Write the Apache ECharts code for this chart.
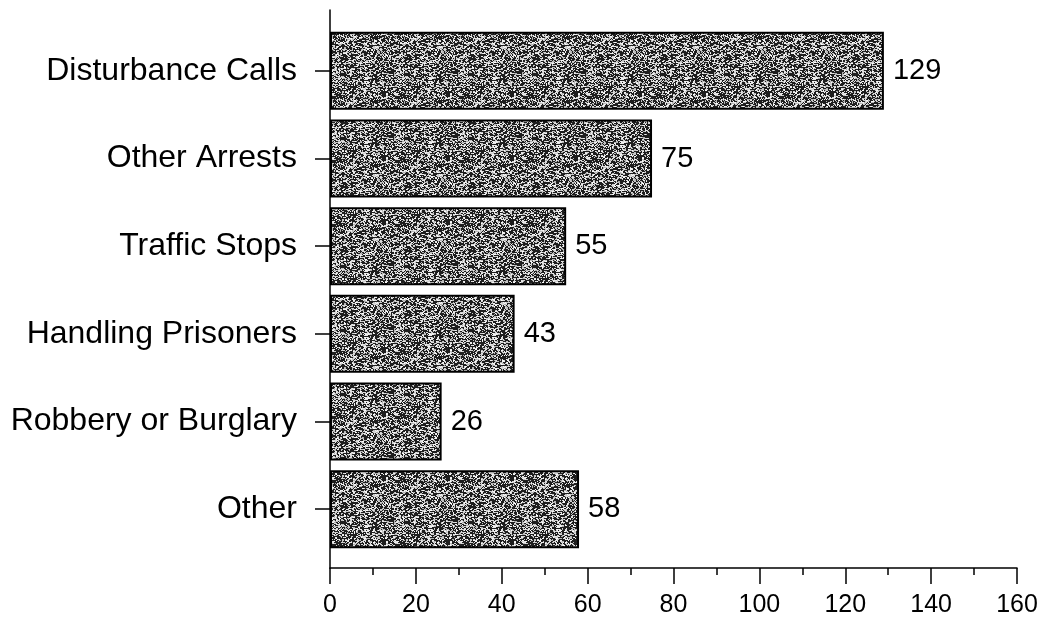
<!DOCTYPE html>
<html>
<head>
<meta charset="utf-8">
<script src="https://cdn.jsdelivr.net/npm/echarts@6/dist/echarts.min.js"></script>
<style>html,body{margin:0;padding:0;background:#fff}#c{width:1042px;height:624px}</style>
</head>
<body>
<div id="c"></div>
<script>
const categories = ["Disturbance Calls", "Other Arrests", "Traffic Stops", "Handling Prisoners", "Robbery or Burglary", "Other"];
const values = [129, 75, 55, 43, 26, 58];
const xTicks = { min: 0, max: 160, interval: 20 };

// deterministic speckled texture for bar fill
function makePattern() {
  const c = document.createElement('canvas');
  c.width = 64; c.height = 64;
  const ctx = c.getContext('2d');
  ctx.fillStyle = '#1e1e1e';
  ctx.fillRect(0, 0, 64, 64);
  let s = 12345;
  function h() { s = (s * 1103515245 + 12345) & 0x7fffffff; return s / 0x7fffffff; }
  for (let y = 0; y < 64; y++) {
    for (let x = 0; x < 64; x++) {
      const r = h();
      if (r < 0.36) {
        const g = 170 + Math.floor(h() * 85);
        ctx.fillStyle = 'rgb(' + g + ',' + g + ',' + g + ')';
        ctx.fillRect(x, y, r < 0.15 ? 2 : 1, 1);
      }
    }
  }
  return c;
}

const chart = echarts.init(document.getElementById('c'), null, { renderer: 'canvas' });
chart.setOption({
  animation: false,
  backgroundColor: '#fff',
  grid: [
    { left: 330, right: 25, top: 27, bottom: 71 },
    { left: 330, right: 25, top: 10, bottom: 56 }
  ],
  xAxis: [
    { gridIndex: 0, type: 'value', min: xTicks.min, max: xTicks.max, interval: xTicks.interval, show: false },
    { gridIndex: 1, type: 'value', min: xTicks.min, max: xTicks.max, interval: xTicks.interval,
      axisLine: { show: true, lineStyle: { color: '#000', width: 1.5 } },
      axisTick: { show: true, length: 16, lineStyle: { color: '#000', width: 1.5 } },
      minorTick: { show: true, splitNumber: 2, length: 7, lineStyle: { color: '#000', width: 1.5 } },
      splitLine: { show: false },
      axisLabel: { color: '#000', fontSize: 25, fontFamily: 'Liberation Sans, Arial', margin: 25 }
    }
  ],
  yAxis: [
    { gridIndex: 0, type: 'category', data: categories, inverse: true,
      axisLine: { show: false },
      axisTick: { show: true, alignWithLabel: true, length: 15, lineStyle: { color: '#000', width: 1.5 } },
      axisLabel: { color: '#000', fontSize: 32, fontFamily: 'Liberation Sans, Arial', margin: 33 }
    },
    { gridIndex: 1, type: 'value', min: 0, max: 1,
      axisLine: { show: true, lineStyle: { color: '#000', width: 1.5 } },
      axisTick: { show: false }, axisLabel: { show: false }, splitLine: { show: false }
    }
  ],
  series: [{
    type: 'bar',
    xAxisIndex: 0, yAxisIndex: 0,
    data: values,
    barWidth: '89%',
    itemStyle: {
      color: { image: makePattern(), repeat: 'repeat' },
      borderColor: '#000', borderWidth: 2
    },
    label: {
      show: true, position: 'right', distance: 9,
      color: '#000', fontSize: 29, fontFamily: 'Liberation Sans, Arial'
    }
  }]
});
</script>
</body>
</html>
